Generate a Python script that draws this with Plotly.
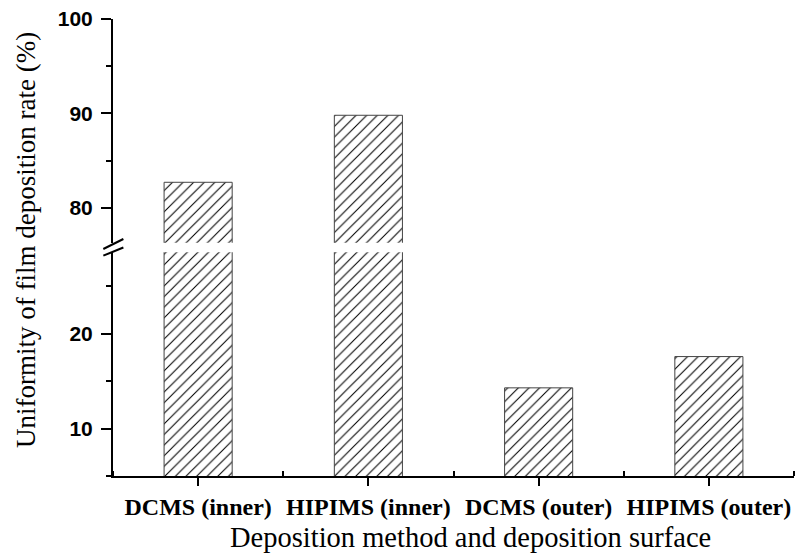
import plotly.graph_objects as go

# Deposition-rate uniformity for each method / surface
categories = ["DCMS (inner)", "HIPIMS (inner)", "DCMS (outer)", "HIPIMS (outer)"]
uniformity = [82.7, 89.8, 14.3, 17.6]

# Broken value axis: lower and upper segments
lower_range = [5, 28.6]
upper_range = [76.3, 100]
lower_ticks = [10, 20]
upper_ticks = [80, 90, 100]

positions = list(range(len(categories)))

serif = "Liberation Serif, Times New Roman, serif"
sans = "Liberation Sans, Arial, sans-serif"

bar_style = dict(
    color="white",
    line=dict(color="#444444", width=1),
    pattern=dict(shape="/", size=7.5, solidity=0.14, fgcolor="black",
                 fgopacity=1, bgcolor="white", fillmode="overlay"),
)

fig = go.Figure()
for axis in ("y", "y2"):
    fig.add_trace(go.Bar(
        x=positions, y=uniformity, width=0.4,
        marker=bar_style, xaxis="x", yaxis=axis,
        showlegend=False, hoverinfo="skip",
    ))

axis_common = dict(
    showline=True, linecolor="black", linewidth=2,
    ticks="outside", ticklen=10, tickwidth=2, tickcolor="black",
    showgrid=False, zeroline=False,
    tickfont=dict(family=sans, size=21, color="black", weight="bold"),
    ticklabelstandoff=4,
    minor=dict(ticks="outside", ticklen=5, tickwidth=2, tickcolor="black",
               dtick=5, tick0=0, showgrid=False),
    fixedrange=True,
)

fig.update_layout(
    width=795, height=555,
    margin=dict(l=113, r=1, t=19, b=79),
    paper_bgcolor="white", plot_bgcolor="white",
    xaxis=dict(
        range=[-0.5, len(categories) - 0.5],
        tickmode="array", tickvals=positions, ticktext=categories,
        showline=True, linecolor="black", linewidth=2,
        ticks="outside", ticklen=8, tickwidth=2, tickcolor="black",
        tickfont=dict(family=serif, size=24, color="black", weight="bold"),
        minor=dict(ticks="inside", ticklen=5, tickwidth=2, tickcolor="black",
                   tick0=0.5, dtick=1, showgrid=False),
        showgrid=False, zeroline=False, anchor="y", fixedrange=True,
    ),
    yaxis=dict(domain=[0, 0.4895], range=lower_range,
               tickmode="array", tickvals=lower_ticks, anchor="x", **axis_common),
    yaxis2=dict(domain=[0.5105, 1], range=upper_range,
                tickmode="array", tickvals=upper_ticks, anchor="x", **axis_common),
)

# Axis-break marks on the value axis
for y0, y1 in ((0.4967, 0.5186), (0.4821, 0.5000)):
    fig.add_shape(type="line", xref="paper", yref="paper",
                  x0=-0.0142, y0=y0, x1=0.0152, y1=y1,
                  line=dict(color="black", width=2))

fig.add_annotation(
    text="Uniformity of film deposition rate (%)", textangle=-90,
    xref="paper", yref="paper", x=-0.128, y=0.516,
    xanchor="center", yanchor="middle", showarrow=False,
    font=dict(family=serif, size=27, color="black"),
)
fig.add_annotation(
    text="Deposition method and deposition surface",
    xref="paper", yref="paper", x=0.525, y=-0.1335,
    xanchor="center", yanchor="middle", showarrow=False,
    font=dict(family=serif, size=28.5, color="black"),
)

fig.write_html("out.html")
